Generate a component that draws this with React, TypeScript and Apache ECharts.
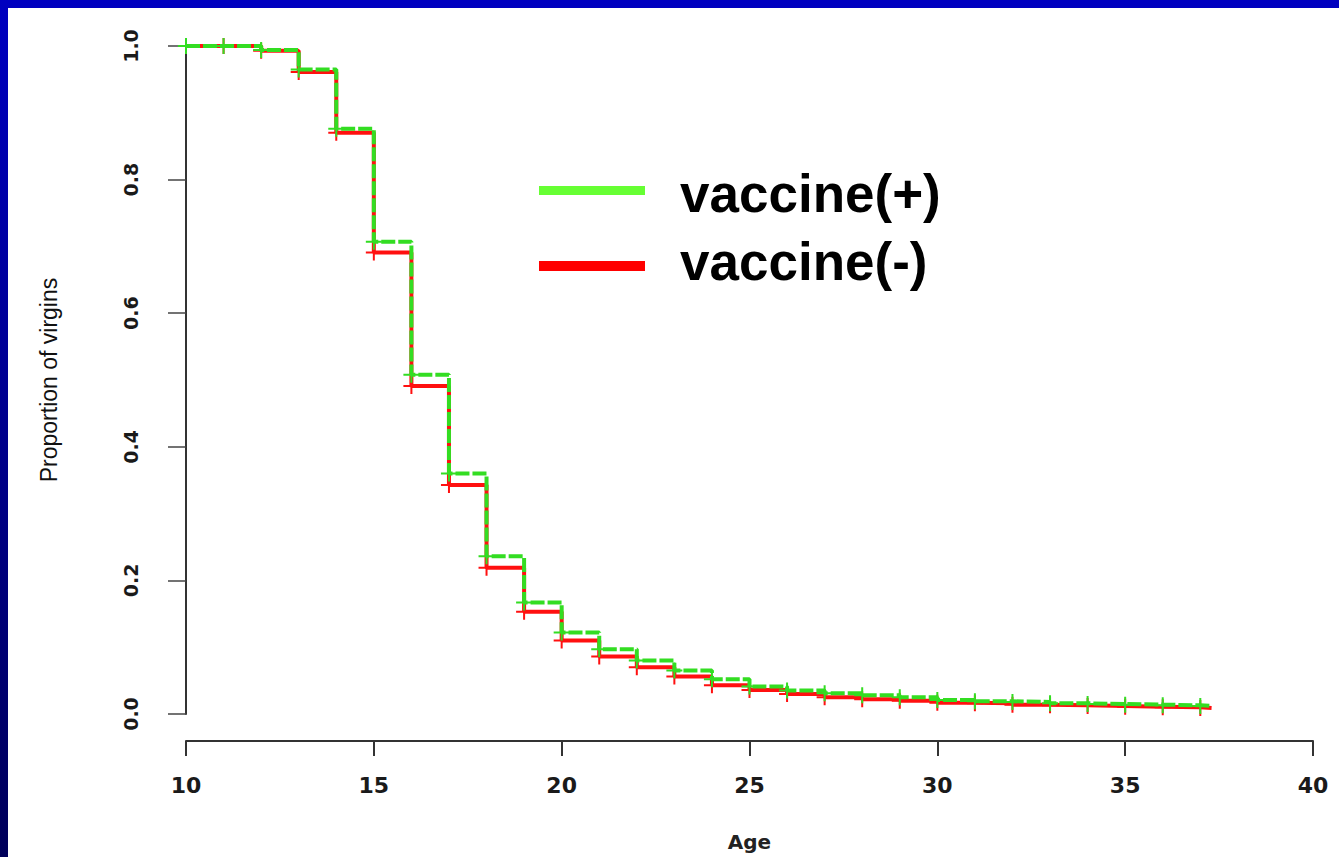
import React, { useEffect, useRef } from "react";
import * as echarts from "echarts";

const ages = [10, 11, 12, 13, 14, 15, 16, 17, 18, 19, 20, 21, 22, 23, 24, 25, 26, 27, 28, 29, 30, 31, 32, 33, 34, 35, 36, 37, 37.3];
const vaccinePlus = [1.0, 1.0, 0.994, 0.965, 0.876, 0.707, 0.508, 0.36, 0.236, 0.167, 0.122, 0.097, 0.08, 0.065, 0.052, 0.041, 0.035, 0.031, 0.028, 0.025, 0.021, 0.019, 0.018, 0.016, 0.015, 0.014, 0.013, 0.012, 0.012];
const vaccineMinus = [1.0, 1.0, 0.993, 0.961, 0.87, 0.691, 0.491, 0.343, 0.219, 0.153, 0.11, 0.086, 0.07, 0.056, 0.043, 0.036, 0.03, 0.025, 0.022, 0.02, 0.017, 0.016, 0.014, 0.013, 0.012, 0.011, 0.01, 0.009, 0.009];
const seriesNames = ["vaccine(+)", "vaccine(-)"];
const plotColors = ["#33dd22", "#ff1010"];
const legendColors = ["#66ff33", "#ff0000"];
const xTitle = "Age";
const yTitle = "Proportion of virgins";

const PLUS = "path://M7,0H9V7H16V9H9V16H7V9H0V7H7Z";

function buildData(values: number[]) {
  return ages.map((a, i) => {
    const isInt = Number.isInteger(a);
    return isInt ? [a, values[i]] : { value: [a, values[i]], symbol: "none" };
  });
}

export default function App() {
  const ref = useRef<HTMLDivElement>(null);
  useEffect(() => {
    if (!ref.current) return;
    const chart = echarts.init(ref.current, null, { renderer: "svg" });
    const option: any = {
      animation: false,
      backgroundColor: "#ffffff",
      grid: { left: 178, right: 26, top: 38, bottom: 142, containLabel: false },
      xAxis: {
        type: "value",
        min: 10,
        max: 40,
        interval: 5,
        offset: 27,
        name: xTitle,
        nameLocation: "middle",
        nameGap: 91,
        nameTextStyle: { fontFamily: "DejaVu Sans", fontWeight: "bold", fontSize: 20, color: "#222" },
        axisLine: { show: true, onZero: false, lineStyle: { color: "#333", width: 2 } },
        axisTick: { show: true, length: 15, lineStyle: { color: "#333", width: 2 } },
        axisLabel: { margin: 33, fontFamily: "DejaVu Sans", fontWeight: "bold", fontSize: 22, color: "#1a1a1a" },
        splitLine: { show: false },
      },
      yAxis: {
        type: "value",
        min: 0,
        max: 1,
        interval: 0.2,
        name: yTitle,
        nameLocation: "middle",
        nameGap: 126,
        nameRotate: 90,
        nameTextStyle: { fontFamily: "Liberation Sans", fontSize: 23, color: "#111" },
        axisLine: { show: true, onZero: false, lineStyle: { color: "#333", width: 2 } },
        axisTick: { show: true, length: 18, lineStyle: { color: "#444", width: 1.5 } },
        axisLabel: {
          rotate: 90,
          margin: 46,
          fontFamily: "DejaVu Sans",
          fontWeight: "bold",
          fontSize: 19,
          color: "#1a1a1a",
          formatter: (v: number) => v.toFixed(1),
        },
        splitLine: { show: false },
      },
      series: [
        {
          name: seriesNames[1],
          type: "line",
          step: "end",
          data: buildData(vaccineMinus),
          symbol: PLUS,
          symbolSize: 16,
          showSymbol: true,
          itemStyle: { color: plotColors[1] },
          lineStyle: { color: plotColors[1], width: 4 },
          z: 2,
        },
        {
          name: seriesNames[0],
          type: "line",
          step: "end",
          data: buildData(vaccinePlus),
          symbol: PLUS,
          symbolSize: 16,
          showSymbol: true,
          itemStyle: { color: plotColors[0] },
          lineStyle: { color: plotColors[0], width: 4, type: [14, 3] },
          z: 3,
        },
      ],
      graphic: [
        { type: "rect", shape: { x: 531, y: 178, width: 106, height: 9 }, style: { fill: legendColors[0] } },
        { type: "rect", shape: { x: 531, y: 253, width: 106, height: 10 }, style: { fill: legendColors[1] } },
        {
          type: "text",
          x: 672,
          y: 185,
          style: {
            text: seriesNames[0],
            fill: "#000",
            font: "bold 53px 'Liberation Sans', Arial, sans-serif",
            verticalAlign: "middle",
            align: "left",
          },
        },
        {
          type: "text",
          x: 672,
          y: 253,
          style: {
            text: seriesNames[1],
            fill: "#000",
            font: "bold 53px 'Liberation Sans', Arial, sans-serif",
            verticalAlign: "middle",
            align: "left",
          },
        },
      ],
    };
    chart.setOption(option);
    return () => chart.dispose();
  }, []);

  return (
    <div
      style={{
        position: "fixed",
        left: 0,
        top: 0,
        width: 1339,
        height: 857,
        background: "linear-gradient(to bottom, #0000c0, #00005a)",
        overflow: "hidden",
      }}
    >
      <div
        ref={ref}
        style={{ position: "absolute", left: 8, top: 8, width: 1331, height: 849, background: "#fff" }}
      />
    </div>
  );
}
